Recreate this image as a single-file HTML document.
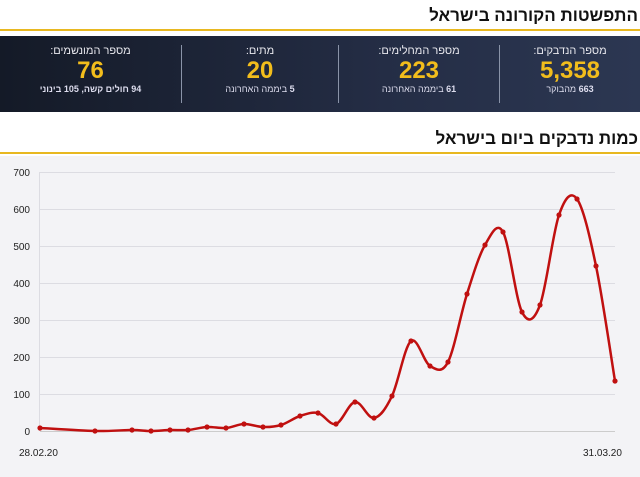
<!DOCTYPE html>
<html><head><meta charset="utf-8"><style>
body{margin:0;width:640px;height:477px;overflow:hidden;background:#fff;font-family:"Liberation Sans","DejaVu Sans",sans-serif;position:relative}
.t{position:absolute;right:2px;font-weight:bold;font-size:17px;color:#111;direction:rtl}
.line{position:absolute;left:0;width:640px;height:2px;background:#e8b820}
.ban{position:absolute;left:0;top:36px;width:640px;height:76px;background:linear-gradient(90deg,#141a27,#242d45 60%,#2c3752)}
.col{position:absolute;top:0;height:76px;text-align:center;color:#fff;direction:rtl}
.col .a{font-size:11px;margin-top:9px;color:#e8e8ee}
.col .b{font-size:24px;font-weight:bold;color:#f2bd1c;line-height:27px}
.col .c{font-size:9px;color:#dde}
.div{position:absolute;top:9px;width:1px;height:58px;background:#8a93a8}
</style></head><body>
<div class="t" style="top:6px">התפשטות הקורונה בישראל</div>
<div class="line" style="top:29px"></div>
<div class="ban">
<div class="col" style="left:500px;width:140px"><div class="a">מספר הנדבקים:</div><div class="b">5,358</div><div class="c"><b>663</b> מהבוקר</div></div>
<div class="div" style="left:499px"></div>
<div class="col" style="left:339px;width:160px"><div class="a">מספר המחלימים:</div><div class="b">223</div><div class="c"><b>61</b> ביממה האחרונה</div></div>
<div class="div" style="left:338px"></div>
<div class="col" style="left:182px;width:156px"><div class="a">מתים:</div><div class="b">20</div><div class="c"><b>5</b> ביממה האחרונה</div></div>
<div class="div" style="left:181px"></div>
<div class="col" style="left:0;width:181px"><div class="a">מספר המונשמים:</div><div class="b">76</div><div class="c"><b>94 חולים קשה, 105 בינוני</b></div></div>
</div>
<div class="t" style="top:129px">כמות נדבקים ביום בישראל</div>
<div class="line" style="top:152px"></div>
<svg style="position:absolute;left:0;top:156px" width="640" height="321" viewBox="0 156 640 321">
<rect x="0" y="156" width="640" height="321" fill="#f3f3f6"/>
<g stroke="#dcdce2" stroke-width="1">
<line x1="40" x2="615" y1="172.5" y2="172.5"/><line x1="40" x2="615" y1="209.5" y2="209.5"/>
<line x1="40" x2="615" y1="246.5" y2="246.5"/><line x1="40" x2="615" y1="283.5" y2="283.5"/>
<line x1="40" x2="615" y1="320.5" y2="320.5"/><line x1="40" x2="615" y1="357.5" y2="357.5"/>
<line x1="40" x2="615" y1="394.5" y2="394.5"/><line x1="39.5" x2="39.5" y1="172" y2="431"/>
</g>
<line x1="40" x2="615" y1="431.5" y2="431.5" stroke="#ccc"/>
<g font-size="10" fill="#222" text-anchor="end">
<text x="30" y="176">700</text><text x="30" y="213">600</text><text x="30" y="250">500</text>
<text x="30" y="287">400</text><text x="30" y="324">300</text><text x="30" y="361">200</text>
<text x="30" y="398">100</text><text x="30" y="435">0</text>
</g>
<text x="19" y="456" font-size="10" fill="#222">28.02.20</text>
<text x="583" y="456" font-size="10" fill="#222">31.03.20</text>
<path id="p" fill="none" stroke="#c01010" stroke-width="2.5"/>
<g id="d" fill="#c01010"></g>
</svg>
<script>
var P=[[40,428],[95,431],[132,430],[151,431],[170,430],[188,430],[207,427],[226,428],[244,424],[263,427],[281,425],[300,416],[318,413],[336,424],[355,402],[374,418],[392,396],[411,341],[430,366],[448,362],[467,294],[485,245],[503,232],[522,312],[540,305],[559,215],[577,199],[596,266],[615,381]];
var d="M"+P[0];
for(var i=0;i<P.length-1;i++){var p0=P[i-1]||P[i],p1=P[i],p2=P[i+1],p3=P[i+2]||p2;
d+=" C"+(p1[0]+(p2[0]-p0[0])/6)+","+(p1[1]+(p2[1]-p0[1])/6)+" "+(p2[0]-(p3[0]-p1[0])/6)+","+(p2[1]-(p3[1]-p1[1])/6)+" "+p2;}
document.getElementById("p").setAttribute("d",d);
var g=document.getElementById("d"),s="";
P.forEach(function(p){s+='<circle cx="'+p[0]+'" cy="'+p[1]+'" r="2.6"/>';});
g.innerHTML=s;
</script>
</body></html>
